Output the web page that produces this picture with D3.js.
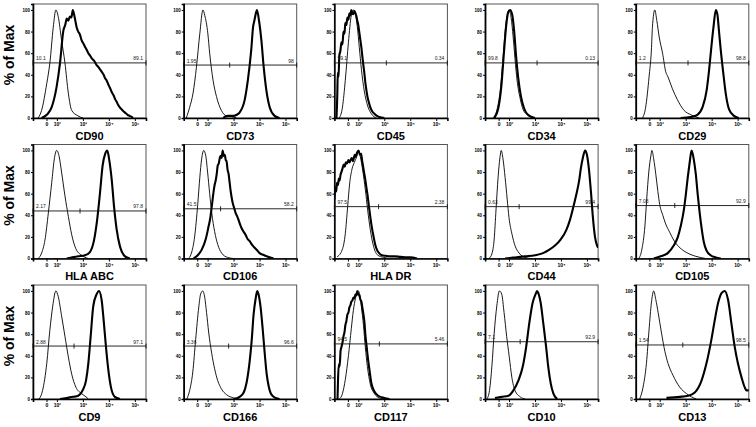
<!DOCTYPE html>
<html>
<head>
<meta charset="utf-8">
<script src="https://cdn.jsdelivr.net/npm/d3@7"></script>
<style>
  body { margin: 0; background: #fff; }
  svg { display: block; }
  text { font-family: "Liberation Sans", Arial, sans-serif; }
</style>
</head>
<body>
<svg id="chart" width="756" height="427"></svg>
<script>
// markers, row by row
const markers = ['CD90', 'CD73', 'CD45', 'CD34', 'CD29',
  'HLA ABC', 'CD106', 'HLA DR', 'CD44', 'CD105',
  'CD9', 'CD166', 'CD117', 'CD10', 'CD13'];

// gate: level (% of max), split (log display units), left / right percentages
const gateLevel = [51, 49, 51, 51, 51, 44, 46, 48, 48, 49, 49, 49, 51, 53, 50];
const gateSplit = [2.12, 2.85, 3.08, 3.08, 3.09, 2.89, 2.50, 2.78, 2.39, 2.58, 2.66, 2.81, 2.81, 2.43, 2.89];
const leftPct = ['10.1', '1.95', '99.1', '99.8', '1.2', '2.17', '41.5', '97.5', '0.63', '7.03', '2.88', '3.36', '94.5', '7.1', '1.54'];
const rightPct = ['89.1', '98', '0.34', '0.13', '98.8', '97.8', '58.2', '2.38', '99.4', '92.9', '97.1', '96.6', '5.46', '92.9', '98.5'];

// axis ticks
const xTickValues = [1.6, 2, 3, 4, 5];
const xTickLabels = ['0', '10\u00b2', '10\u00b3', '10\u2074', '10\u2075'];
const yTickValues = [0, 20, 40, 60, 80, 100];

// isotype control histograms: [log display position, % of max]
const isotypeCurves = [
  [[1.28,0],[1.41,7],[1.61,32],[1.73,51],[1.86,84],[1.96,100],[2.05,94],[2.18,72],[2.31,51],[2.44,23],[2.57,7],[2.81,2],[3.0,0]],
  [[1.18,0],[1.31,10],[1.44,23],[1.57,47],[1.70,78],[1.82,100],[1.89,95],[2.01,78],[2.08,60],[2.21,35],[2.34,20],[2.53,7],[2.72,2],[2.98,1],[3.11,0]],
  [[1.27,0],[1.39,10],[1.50,35],[1.62,70],[1.73,95],[1.81,100],[1.89,96],[1.96,85],[2.04,65],[2.12,45],[2.23,25],[2.35,12],[2.50,4],[2.70,0]],
  [[1.39,0],[1.54,8],[1.66,25],[1.77,55],[1.85,80],[1.93,95],[2.00,100],[2.08,93],[2.16,75],[2.23,55],[2.31,35],[2.43,18],[2.54,8],[2.70,3],[2.93,0]],
  [[1.34,0],[1.46,10],[1.59,38],[1.68,63],[1.72,84],[1.81,100],[1.89,90],[1.98,75],[2.11,60],[2.23,43],[2.32,38],[2.49,27],[2.68,17],[2.94,7],[3.20,3],[3.39,1],[3.51,0]],
  [[1.28,0],[1.41,5],[1.54,17],[1.67,42],[1.80,70],[1.90,92],[1.99,100],[2.09,94],[2.18,80],[2.31,58],[2.44,39],[2.57,22],[2.73,9],[2.95,3],[3.21,0]],
  [[1.27,0],[1.39,6],[1.50,20],[1.62,50],[1.70,75],[1.77,92],[1.85,100],[1.93,95],[2.00,80],[2.08,60],[2.16,42],[2.27,25],[2.39,13],[2.54,5],[2.77,1],[3.0,0]],
  [[1.18,1.5],[1.38,8],[1.50,23],[1.59,48],[1.67,70],[1.76,83],[1.85,89],[1.95,95],[2.01,100],[2.08,94],[2.18,80],[2.27,64],[2.36,45],[2.46,27],[2.59,11],[2.75,3],[2.98,1],[3.23,0]],
  [[1.23,0],[1.35,5],[1.43,18],[1.50,45],[1.58,75],[1.66,95],[1.70,100],[1.77,92],[1.85,75],[1.93,55],[2.00,38],[2.12,22],[2.23,12],[2.39,5],[2.62,1],[2.85,0]],
  [[1.20,0],[1.31,8],[1.43,30],[1.50,55],[1.58,80],[1.66,95],[1.70,100],[1.77,92],[1.85,78],[1.93,62],[2.00,50],[2.12,40],[2.23,32],[2.39,24],[2.54,17],[2.73,11],[2.93,7],[3.16,4],[3.39,2],[3.77,0]],
  [[1.32,0],[1.45,8],[1.61,33],[1.73,64],[1.84,86],[1.96,100],[2.05,95],[2.18,77],[2.31,58],[2.44,39],[2.57,23],[2.73,11],[2.95,5],[3.12,2],[3.21,0]],
  [[1.20,0],[1.31,8],[1.43,25],[1.54,55],[1.66,85],[1.73,97],[1.81,100],[1.89,94],[1.96,80],[2.04,62],[2.16,42],[2.27,28],[2.39,17],[2.54,9],[2.73,4],[3.0,1],[3.20,0]],
  [[1.27,0],[1.39,5],[1.50,18],[1.62,40],[1.73,65],[1.81,82],[1.89,93],[2.00,100],[2.06,96],[2.12,85],[2.20,68],[2.27,48],[2.35,30],[2.46,14],[2.62,5],[2.81,1],[3.0,0]],
  [[1.15,0],[1.25,8],[1.34,30],[1.43,61],[1.53,86],[1.63,100],[1.72,97],[1.81,80],[1.91,58],[2.01,39],[2.11,20],[2.23,8],[2.43,2],[2.62,0]],
  [[1.23,0],[1.36,11],[1.49,33],[1.59,64],[1.68,89],[1.77,100],[1.85,92],[1.94,80],[2.07,61],[2.20,44],[2.32,33],[2.51,22],[2.77,11],[3.03,5],[3.22,2],[3.41,0]]
];

// stained sample histograms: [log display position, % of max]
const stainedCurves = [
  [[1.41,0],[1.61,3],[1.80,10],[1.99,29],[2.12,51],[2.25,81],[2.32,86],[2.38,92],[2.44,90],[2.50,94],[2.56,93],[2.61,100],[2.66,96],[2.71,90],[2.76,84],[2.82,80],[2.89,77],[2.95,72],[3.02,69],[3.08,66],[3.15,63],[3.21,60],[3.27,58],[3.35,55],[3.43,53],[3.53,49],[3.60,47],[3.66,45],[3.72,43],[3.80,40],[3.85,37],[3.91,35],[3.98,31],[4.04,28],[4.11,24],[4.18,21],[4.25,17],[4.30,15],[4.36,12],[4.45,9],[4.53,7],[4.62,5],[4.72,3],[4.80,2],[4.88,1],[4.93,0]],
  [[2.60,0],[2.66,1],[2.80,2],[3.0,2],[3.12,3],[3.23,5],[3.43,17],[3.55,35],[3.68,63],[3.75,84],[3.80,90],[3.85,96],[3.90,100],[3.98,90],[4.07,72],[4.16,47],[4.26,26],[4.39,10],[4.58,2],[4.77,0]],
  [[1.16,0],[1.19,20],[1.21,42],[1.24,38],[1.27,58],[1.31,62],[1.35,70],[1.39,68],[1.43,80],[1.47,78],[1.50,88],[1.54,86],[1.58,93],[1.62,91],[1.66,97],[1.70,95],[1.73,100],[1.77,97],[1.81,96],[1.85,99],[1.89,97],[1.93,94],[1.96,90],[2.00,86],[2.04,79],[2.08,72],[2.12,65],[2.16,56],[2.20,48],[2.24,40],[2.27,33],[2.31,26],[2.35,20],[2.40,15],[2.46,10],[2.54,6],[2.62,4],[2.72,2],[2.81,1],[3.0,0]],
  [[1.43,0],[1.58,8],[1.70,28],[1.81,62],[1.89,85],[1.96,97],[2.04,100],[2.12,96],[2.20,80],[2.27,58],[2.35,38],[2.46,20],[2.58,9],[2.73,3],[3.0,0]],
  [[2.81,0],[3.20,1],[3.45,3],[3.65,10],[3.81,26],[3.90,44],[3.99,66],[4.07,84],[4.16,100],[4.22,96],[4.28,81],[4.35,63],[4.45,41],[4.54,23],[4.67,8],[4.86,2],[5.04,0]],
  [[2.38,0],[2.82,2],[3.08,3],[3.27,6],[3.43,17],[3.55,36],[3.66,61],[3.76,86],[3.86,97],[3.94,100],[4.01,92],[4.11,73],[4.20,48],[4.30,27],[4.43,11],[4.62,2],[4.81,0]],
  [[1.46,0],[1.62,3],[1.77,8],[1.93,18],[2.04,30],[2.10,37],[2.16,48],[2.22,60],[2.27,68],[2.31,72],[2.35,78],[2.39,86],[2.43,88],[2.47,93],[2.50,95],[2.54,93],[2.58,100],[2.62,95],[2.66,96],[2.70,91],[2.73,90],[2.77,82],[2.81,78],[2.85,70],[2.89,62],[2.93,56],[2.96,52],[3.02,47],[3.08,42],[3.14,39],[3.20,35],[3.26,31],[3.31,28],[3.38,25],[3.46,22],[3.54,18],[3.62,16],[3.70,13],[3.77,11],[3.85,9],[3.93,7],[4.0,5],[4.08,4],[4.18,3],[4.27,2],[4.54,0]],
  [[1.08,55],[1.12,66],[1.15,62],[1.18,70],[1.22,68],[1.25,74],[1.28,72],[1.32,78],[1.35,80],[1.39,83],[1.44,87],[1.48,85],[1.52,89],[1.57,88],[1.62,91],[1.66,89],[1.70,91],[1.75,93],[1.79,90],[1.82,92],[1.86,96],[1.90,94],[1.95,98],[2.01,100],[2.06,96],[2.11,97],[2.15,90],[2.18,86],[2.22,80],[2.27,73],[2.31,66],[2.36,58],[2.41,48],[2.46,39],[2.52,29],[2.59,20],[2.65,13],[2.72,8],[2.80,5],[2.91,3],[3.05,2.5],[3.23,2],[3.40,2],[3.62,1.5],[3.80,1.2],[4.0,1],[4.26,0]],
  [[1.85,0],[2.23,1],[2.62,2],[3.0,3],[3.31,5],[3.54,8],[3.77,12],[4.0,18],[4.20,26],[4.35,36],[4.46,46],[4.58,58],[4.70,72],[4.77,84],[4.85,94],[4.93,100],[5.0,96],[5.08,82],[5.16,60],[5.23,38],[5.31,20],[5.39,12],[5.43,10]],
  [[1.77,0],[2.04,2],[2.31,5],[2.54,12],[2.70,20],[2.81,30],[2.93,45],[3.0,58],[3.08,75],[3.16,90],[3.20,97],[3.23,100],[3.31,92],[3.39,78],[3.46,60],[3.54,42],[3.62,27],[3.70,15],[3.81,7],[3.96,3],[4.16,1],[4.35,0]],
  [[2.12,0],[2.38,1],[2.63,2],[2.82,3],[2.99,8],[3.12,17],[3.21,33],[3.30,58],[3.40,86],[3.53,97],[3.62,100],[3.72,92],[3.81,70],[3.89,48],[3.98,27],[4.08,11],[4.23,2],[4.43,0]],
  [[3.0,0],[3.23,2],[3.39,6],[3.50,15],[3.62,35],[3.70,55],[3.77,78],[3.85,93],[3.91,100],[3.96,97],[4.04,85],[4.12,65],[4.20,42],[4.27,24],[4.35,12],[4.46,4],[4.62,1],[4.77,0]],
  [[1.20,0],[1.22,18],[1.25,32],[1.28,30],[1.32,45],[1.35,48],[1.39,52],[1.43,58],[1.47,62],[1.50,68],[1.54,72],[1.58,78],[1.62,80],[1.66,85],[1.70,87],[1.73,90],[1.77,91],[1.81,94],[1.85,93],[1.89,97],[1.93,96],[1.96,100],[2.00,97],[2.04,96],[2.08,92],[2.12,90],[2.16,84],[2.20,78],[2.24,70],[2.27,60],[2.31,51],[2.35,42],[2.39,34],[2.43,27],[2.50,15],[2.62,7],[2.77,3],[3.0,1],[3.20,0]],
  [[1.46,1],[1.72,2],[1.98,3],[2.17,8],[2.36,17],[2.53,30],[2.66,48],[2.78,70],[2.91,89],[3.04,98],[3.08,100],[3.13,98],[3.22,89],[3.32,70],[3.43,48],[3.51,30],[3.61,14],[3.71,5],[3.86,0]],
  [[2.26,1],[2.77,2],[3.09,3],[3.35,6],[3.61,17],[3.80,33],[3.99,55],[4.12,73],[4.25,89],[4.38,98],[4.50,100],[4.63,92],[4.76,70],[4.89,48],[5.01,33],[5.15,20],[5.27,11],[5.34,8],[5.43,8]]
];

const svg = d3.select('#chart');
const panelW = 113;
const panelH = 114;

const x = d3.scaleLinear().domain([1.08, 5.43]).range([0, panelW]);
const y = d3.scaleLinear().domain([0, 105.5]).range([panelH, 0]);

const line = d3.line()
  .x(d => x(d[0]))
  .y(d => y(d[1]))
  .curve(d3.curveMonotoneX);

svg.append('defs').append('clipPath')
  .attr('id', 'plot-clip')
  .append('rect')
    .attr('width', panelW)
    .attr('height', panelH);

markers.forEach((name, i) => {
  const col = i % 5;
  const row = Math.floor(i / 5);
  const g = svg.append('g')
    .attr('transform', `translate(${33 + col * 150.7},${4 + row * 140.5})`);

  // frame
  g.append('rect')
    .attr('width', panelW)
    .attr('height', panelH)
    .attr('fill', 'none')
    .attr('stroke', '#555')
    .attr('stroke-width', 1);

  // y axis
  const yAxis = g.append('g')
    .call(d3.axisLeft(y).tickValues(yTickValues).tickSize(2).tickPadding(1));
  yAxis.select('.domain').attr('stroke', '#000').attr('stroke-width', 1.6);
  yAxis.selectAll('text').attr('font-size', 4.5).attr('font-weight', 'bold');

  // x axis
  const xAxis = g.append('g')
    .attr('transform', `translate(0,${panelH})`)
    .call(d3.axisBottom(x).tickValues(xTickValues)
      .tickFormat((d, k) => xTickLabels[k]).tickSize(3).tickPadding(1.5));
  xAxis.select('.domain').attr('stroke', '#000').attr('stroke-width', 1.6);
  xAxis.selectAll('text').attr('font-size', 5).attr('font-weight', 'bold');

  const plot = g.append('g').attr('clip-path', 'url(#plot-clip)');

  plot.append('path')
    .datum(isotypeCurves[i])
    .attr('d', line)
    .attr('fill', 'none')
    .attr('stroke', '#000')
    .attr('stroke-width', 0.9);

  plot.append('path')
    .datum(stainedCurves[i])
    .attr('d', line)
    .attr('fill', 'none')
    .attr('stroke', '#000')
    .attr('stroke-width', 2.1)
    .attr('stroke-linejoin', 'round');

  // gate
  const gy = y(gateLevel[i]);
  const gate = g.append('g').attr('stroke', '#111').attr('stroke-width', 0.9);
  gate.append('line')
    .attr('x1', 0).attr('x2', panelW)
    .attr('y1', gy).attr('y2', gy);
  [x.domain()[0], gateSplit[i], x.domain()[1]].forEach(v => {
    gate.append('line')
      .attr('x1', x(v)).attr('x2', x(v))
      .attr('y1', gy - 2.5).attr('y2', gy + 2.5);
  });
  g.append('text')
    .attr('x', 3).attr('y', gy - 2.5)
    .attr('font-size', 5)
    .attr('fill', '#222')
    .text(leftPct[i]);
  g.append('text')
    .attr('x', panelW - 3).attr('y', gy - 2.5)
    .attr('text-anchor', 'end')
    .attr('font-size', 5)
    .attr('fill', '#222')
    .text(rightPct[i]);

  // marker label
  g.append('text')
    .attr('x', panelW / 2)
    .attr('y', panelH + 21.5)
    .attr('text-anchor', 'middle')
    .attr('font-size', 11)
    .attr('font-weight', 'bold')
    .text(name);

  if (col === 0) {
    g.append('text')
      .attr('transform', `translate(-19,${panelH / 2 - 6}) rotate(-90)`)
      .attr('text-anchor', 'middle')
      .attr('font-size', 14)
      .attr('font-weight', 'bold')
      .text('% of Max');
  }
});
</script>
</body>
</html>
